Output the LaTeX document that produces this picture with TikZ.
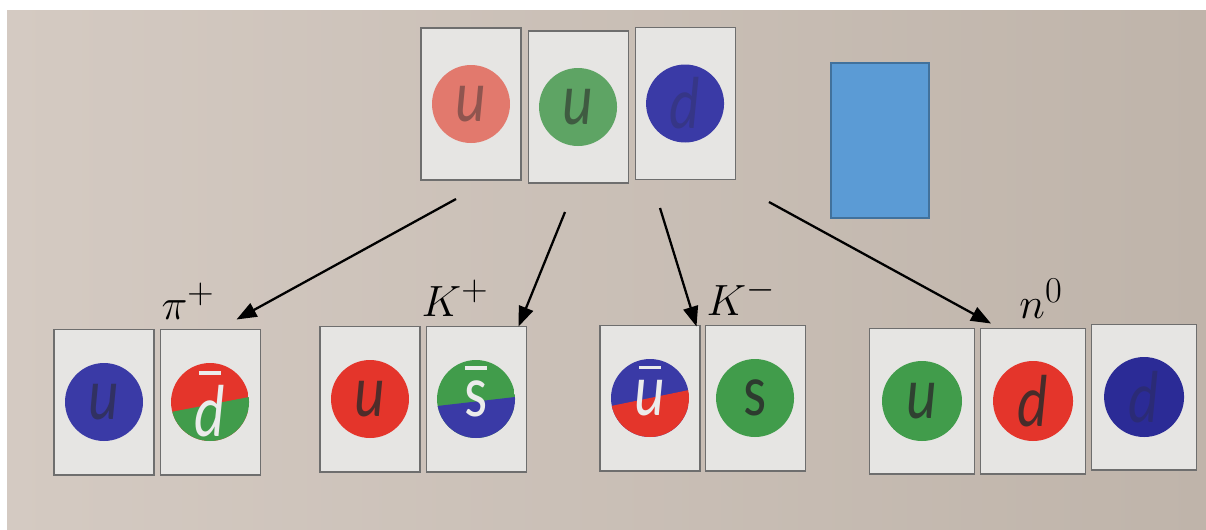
\documentclass[tikz,border=0pt]{standalone}
\usepackage{fontspec}
\usepackage{tikz}
\usetikzlibrary{arrows.meta, positioning, calc}

\newfontfamily\cardfont[FakeStretch=0.8]{Carlito}

\definecolor{wall}{HTML}{D4CAC2}
\definecolor{wallDark}{HTML}{BFB4AA}
\definecolor{cardFill}{HTML}{E6E5E3}
\definecolor{cardLine}{HTML}{6E6E6E}
\definecolor{qRed}{HTML}{E4352B}
\definecolor{qRedPale}{HTML}{E2796D}
\definecolor{qGreen}{HTML}{419C4B}
\definecolor{qGreenPale}{HTML}{5EA464}
\definecolor{qBlue}{HTML}{3A3AA6}
\definecolor{qBlueDeep}{HTML}{2B2B96}
\definecolor{boxBlue}{HTML}{5B9BD5}
\definecolor{boxLine}{HTML}{41719C}
\definecolor{ink}{HTML}{2A2A2A}

% bar over an antiquark letter
\newcommand{\antiq}[1]{\setbox0\hbox{#1}\rlap{\hbox to \wd0{\hss\raisebox{\dimexpr\ht0+0.15em\relax}[0pt][0pt]{\rule{0.3em}{0.045em}}\hss}}\box0}

\begin{document}
\begin{tikzpicture}[
    x=0.02cm, y=-0.02cm,
    card/.style={
        rectangle,
        minimum width=2cm,
        minimum height=2.92cm,
        inner sep=0pt,
        draw=cardLine,
        line width=0.6pt,
        fill=cardFill
    },
    bigcard/.style={card, minimum height=3.04cm},
    quark/.style={
        circle,
        minimum size=1.56cm,
        inner sep=0pt,
        fill=#1,
        text=ink,
        font=\cardfont\fontsize{42}{42}\selectfont\itshape
    },
    anti/.style n args={4}{
        circle,
        minimum size=1.56cm,
        inner sep=0pt,
        text=white!92!black,
        font=\cardfont\fontsize{42}{42}\selectfont\itshape,
        path picture={
            \fill[#1] (path picture bounding box.north west) rectangle (path picture bounding box.south east);
            \fill[#2] ($(path picture bounding box.west)+(0,#3)$) -- ($(path picture bounding box.east)+(0,#4)$)
                -- (path picture bounding box.south east) -- (path picture bounding box.south west) -- cycle;
        }
    },
    meson/.style={inner sep=0pt, font=\fontsize{29}{31}\selectfont},
    arrow/.style={line width=1.3pt, -{Triangle[length=0.4cm, width=0.3cm]}}
]

    \useasboundingbox (0,0) rectangle (1206,529);
    \fill [white] (0,0) rectangle (1206,529);
    \shade [left color=wall, right color=wallDark] (7,10) rectangle (1206,529);

    % proton on top
    \node (q1) [bigcard] at (471,104) {};
    \node (q2) [bigcard, right=0.12cm of q1, yshift=-0.06cm] {};
    \node (q3) [bigcard, right=0.12cm of q2, yshift=0.07cm] {};

    \node (qu1) [quark=qRedPale, text=ink!45!qRedPale] at (q1) {u};
    \node (qu2) [quark=qGreenPale, text=ink!60!qGreenPale] at (q2) {u};
    \node (qd) [quark=qBlue, text=ink!25!qBlue] at (q3) {d};

    \node (slot) [rectangle, minimum width=1.96cm, minimum height=3.1cm, fill=boxBlue, draw=boxLine, line width=1.2pt] at (880,140.5) {};

    % products
    \node (pi1) [card] at (104,402) {};
    \node (pi2) [card, right=0.1cm of pi1] {};
    \node (kp1) [card] at (370,399) {};
    \node (kp2) [card, right=0.1cm of kp1] {};
    \node (km1) [card] at (650,398) {};
    \node (km2) [card, right=0.08cm of km1] {};
    \node (n1) [card, minimum width=2.1cm] at (922,401) {};
    \node (n2) [card, minimum width=2.1cm, right=0.1cm of n1] {};
    \node (n3) [card, minimum width=2.1cm, right=0.1cm of n2, yshift=0.08cm] {};

    \node (piU) [quark=qBlue, text=ink!55!qBlue] at (pi1) {u};
    \node (piD) [anti={qRed}{qGreen}{10}{-5}, text height=40pt] at (pi2) {\antiq{d}};
    \node (kpU) [quark=qRed, text=ink!80!qRed] at (kp1) {u};
    \node (kpS) [anti={qGreen}{qBlue}{7}{-2}] at (kp2) {\antiq{\upshape s}};
    \node (kmU) [anti={qBlue}{qRed}{8}{-8}] at (km1) {\antiq{u}};
    \node (kmS) [quark=qGreen, text=ink!85!qGreen] at (km2) {\upshape s};
    \node (nU) [quark=qGreen, minimum size=1.6cm, text=ink!80!qGreen] at (n1) {u};
    \node (nD1) [quark=qRed, minimum size=1.6cm, text=ink!85!qRed] at (n2) {d};
    \node (nD2) [quark=qBlueDeep, minimum size=1.6cm, text=ink!30!qBlueDeep] at (n3) {d};

    \node (piLabel) [meson, above=0.18cm of pi2, xshift=-0.44cm] {$\pi^+$};
    \node (kpLabel) [meson, above=0.18cm of kp2, xshift=-0.42cm] {$K^+$};
    \node (kmLabel) [meson, above=0.18cm of km2, xshift=-0.28cm] {$K^-$};
    \node (nLabel) [meson, above=0.18cm of n2, xshift=0.16cm] {$n^0$};

    \coordinate (fromPi) at (456,199);
    \coordinate (fromKp) at (565,212);
    \coordinate (fromKm) at (660,208);
    \coordinate (fromN) at (769,202);
    \coordinate (toPi) at ($(pi2.north east)+(-24,-9)$);
    \coordinate (toKp) at ($(kp2.north east)+(-8,1)$);
    \coordinate (toKm) at ($(km1.north east)+(-4,2)$);
    \coordinate (toN) at ($(n2.north west)+(11,-4)$);

    \draw [arrow] (fromPi) -- (toPi);
    \draw [arrow] (fromKp) -- (toKp);
    \draw [arrow] (fromKm) -- (toKm);
    \draw [arrow] (fromN) -- (toN);

\end{tikzpicture}
\end{document}
